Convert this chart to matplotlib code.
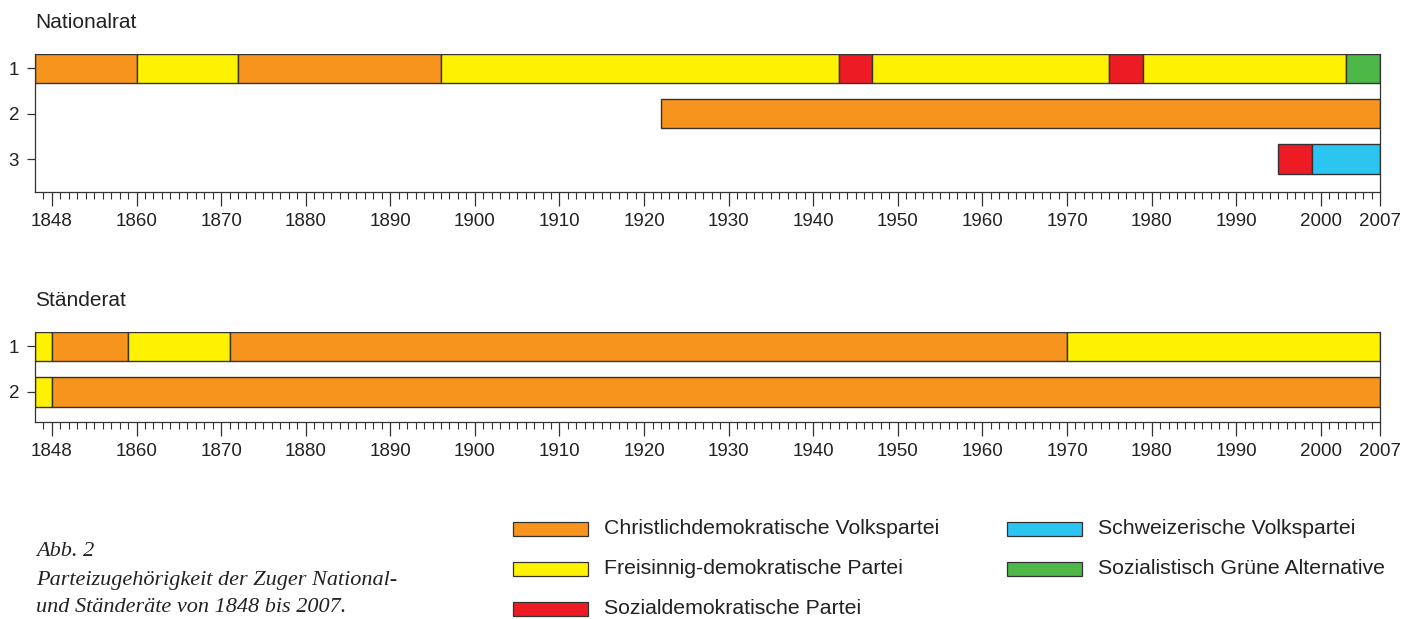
import matplotlib
matplotlib.use("Agg")
import matplotlib.pyplot as plt
from matplotlib.patches import Rectangle

# parties and colours
party_names = {
    "CVP": "Christlichdemokratische Volkspartei",
    "FDP": "Freisinnig-demokratische Partei",
    "SP": "Sozialdemokratische Partei",
    "SVP": "Schweizerische Volkspartei",
    "SGA": "Sozialistisch Grüne Alternative",
}
legend_order = ["CVP", "FDP", "SP", "SVP", "SGA"]
party_colors = {
    "CVP": "#F7941D",
    "FDP": "#FFF200",
    "SP": "#ED1C24",
    "SVP": "#2CC4F0",
    "SGA": "#4DB848",
}

# Nationalrat seats: party sequence and change years
nr1_parties = ["CVP", "FDP", "CVP", "FDP", "SP", "FDP", "SP", "FDP", "SGA"]
nr1_years = [1848, 1860, 1872, 1896, 1943, 1947, 1975, 1979, 2003, 2007]
nr2_parties = ["CVP"]
nr2_years = [1922, 2007]
nr3_parties = ["SP", "SVP"]
nr3_years = [1995, 1999, 2007]

# Ständerat seats
sr1_parties = ["FDP", "CVP", "FDP", "CVP", "FDP"]
sr1_years = [1848, 1850, 1859, 1871, 1970, 2007]
sr2_parties = ["FDP", "CVP"]
sr2_years = [1848, 1850, 2007]

nationalrat = [(nr1_parties, nr1_years), (nr2_parties, nr2_years), (nr3_parties, nr3_years)]
staenderat = [(sr1_parties, sr1_years), (sr2_parties, sr2_years)]

major_ticks = [1850, 1860, 1870, 1880, 1890, 1900, 1910, 1920, 1930, 1940,
               1950, 1960, 1970, 1980, 1990, 2000, 2007]
major_labels = ["1848", "1860", "1870", "1880", "1890", "1900", "1910", "1920",
                "1930", "1940", "1950", "1960", "1970", "1980", "1990", "2000", "2007"]
minor_ticks = list(range(1849, 2007))

plt.rcParams["font.family"] = ["Liberation Sans", "DejaVu Sans"]
EDGE = "#333333"
W, H = 1413, 619


def draw_council(ax, seats, ybottom):
    for row, (parties, years) in enumerate(seats, start=1):
        for party, start, end in zip(parties, years[:-1], years[1:]):
            ax.barh(row, end - start, left=start, height=0.64,
                    color=party_colors[party], edgecolor=EDGE, linewidth=1.0)
    ax.set_xlim(1848, 2007)
    ax.set_ylim(ybottom, 0.68)
    ax.set_yticks(range(1, len(seats) + 1))
    ax.set_xticks(major_ticks)
    ax.set_xticklabels(major_labels)
    ax.set_xticks(minor_ticks, minor=True)
    ax.spines["top"].set_visible(False)
    for s in ("left", "bottom", "right"):
        ax.spines[s].set_color(EDGE)
        ax.spines[s].set_linewidth(0.9)
    ax.tick_params(axis="x", which="major", length=10, width=0.9, color=EDGE,
                   labelsize=13.5, pad=5, labelcolor="#222222")
    ax.tick_params(axis="x", which="minor", length=5, width=0.8, color=EDGE)
    ax.tick_params(axis="y", length=5.5, width=0.9, color=EDGE,
                   labelsize=13.5, pad=6, labelcolor="#222222")


fig = plt.figure(figsize=(W / 100, H / 100), dpi=100)
ax_nr = fig.add_axes([35 / W, 1 - 191.7 / H, 1345 / W, 138 / H])
ax_sr = fig.add_axes([35 / W, 1 - 422.3 / H, 1345 / W, 90.6 / H])
draw_council(ax_nr, nationalrat, 3.72)
draw_council(ax_sr, staenderat, 2.665)

fig.text(35 / W, 1 - 28 / H, "Nationalrat", fontsize=15, va="baseline", color="#222222")
fig.text(35 / W, 1 - 306 / H, "Ständerat", fontsize=15, va="baseline", color="#222222")

# legend, two columns
col_x = [513, 1007]
row_y = [529, 569, 609]
for i, key in enumerate(legend_order):
    col, row = divmod(i, 3)
    x0, yc = col_x[col], row_y[row]
    fig.add_artist(Rectangle((x0 / W, 1 - (yc + 7) / H), 75 / W, 14 / H,
                             transform=fig.transFigure, facecolor=party_colors[key],
                             edgecolor=EDGE, linewidth=0.9))
    fig.text((x0 + 91) / W, 1 - yc / H, party_names[key], fontsize=15.3,
             va="center", color="#222222")

caption = ["Abb. 2", "Parteizugehörigkeit der Zuger National-", "und Ständeräte von 1848 bis 2007."]
for line, yc in zip(caption, [552, 580, 607]):
    fig.text(36 / W, 1 - yc / H, line, fontsize=16, va="center", style="italic",
             family=["Liberation Serif", "DejaVu Serif"], color="#222222")

fig.savefig("out.png", dpi=100)
